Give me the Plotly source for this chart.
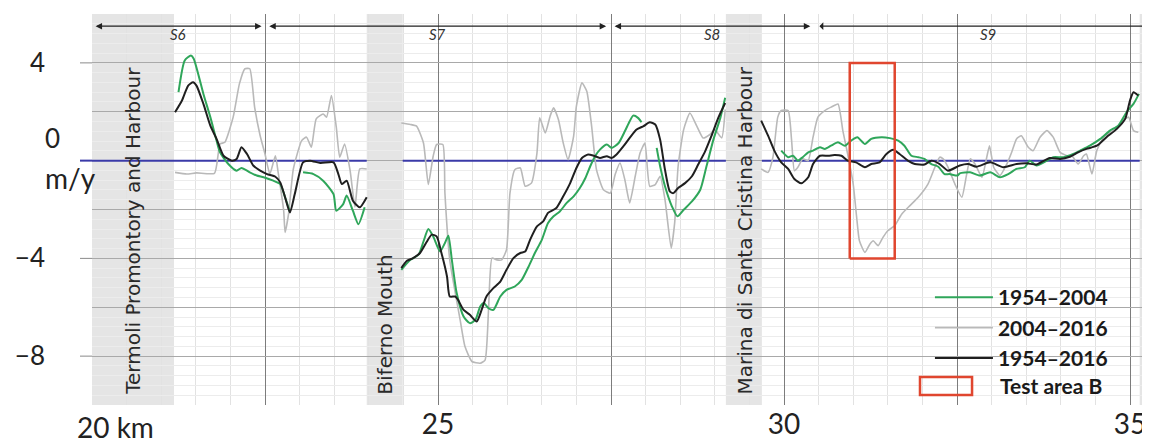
import plotly.graph_objects as go

N = None
# ---------------- data (km along coast, m/y) ----------------
green_x = [21.25, 21.34, 21.43, 21.47, 21.61, 21.71, 21.80, 21.85, 21.97, 22.09, 22.16, 22.28, 22.38, 22.48, 22.62, 22.72, 22.79, 22.86, N,
           23.05, 23.20, 23.34, 23.49, 23.53, 23.63, 23.68, 23.77, 23.85, 23.94, N,
           24.47, 24.60, 24.72, 24.79, 24.86, 24.93, 25.03, 25.10, 25.15, 25.20, 25.27, 25.37, 25.46, 25.54, 25.61, 25.66, 25.73, 25.80, 25.90, 25.99,
           26.11, 26.21, 26.31, 26.40, 26.50, 26.59, 26.67, 26.76, 26.86, 26.96, 27.05, 27.13, 27.20, 27.27, 27.34, 27.44, 27.51, 27.61, 27.70, 27.77,
           27.82, 27.89, 27.94, N,
           28.16, 28.21, 28.28, 28.38, 28.46, 28.55, 28.67, 28.79, 28.88, 28.98, 29.08, 29.15, N,
           29.96, 30.06, 30.13, 30.20, 30.27, 30.35, 30.42, 30.52, 30.59, 30.68, 30.78, 30.88, 30.97, 31.06, 31.17, 31.26, 31.41, 31.53, 31.65, 31.74,
           31.84, 31.94, 32.03, 32.13, 32.23, 32.32, 32.39, 32.51, 32.54, 32.69, 32.83, 32.98, 33.12, 33.24, 33.36, 33.48, 33.55, 33.65, 33.80, 33.89,
           34.04, 34.18, 34.28, 34.42, 34.57, 34.71, 34.83, 34.95, 35.05, 35.13]
green_y = [2.8, 4.1, 4.3, 4.17, 2.73, 1.78, 0.82, 0.34, -0.14, -0.41, -0.30, -0.48, -0.61, -0.68, -0.82, -0.96, -1.5, -2.1, N,
           -0.48, -0.55, -0.82, -1.37, -2.05, -1.78, -1.43, -2.05, -2.6, -1.91, N,
           -4.47, -4.06, -3.85, -3.31, -2.80, -3.10, -3.72, -3.37, -3.07, -4.06, -5.42, -6.38, -6.65, -6.52, -5.97, -5.83, -6.04, -6.11, -5.56, -5.29,
           -5.15, -4.88, -4.33, -3.78, -3.24, -2.55, -2.28, -2.08, -1.73, -1.46, -1.12, -0.71, -0.23, 0.18, 0.45, 0.66, 0.52, 0.72, 1.20, 1.61,
           1.84, 1.75, 1.57, N,
           0.52, -0.23, -1.05, -1.87, -2.28, -2.01, -1.67, -1.19, -0.23, 0.86, 1.75, 2.57, N,
           0.41, 0.14, 0.2, 0.0, 0.14, 0.34, 0.41, 0.55, 0.48, 0.61, 0.75, 0.61, 0.82, 0.96, 0.68, 0.89, 0.96, 0.92, 0.82, 0.61,
           0.2, 0.14, 0.07, -0.14, -0.25, -0.55, -0.55, -0.61, -0.52, -0.48, -0.61, -0.48, -0.68, -0.55, -0.34, -0.27, 0.0, -0.2, 0.0, 0.14,
           0.14, 0.27, 0.41, 0.61, 0.89, 1.23, 1.43, 1.98, 2.32, 2.73]

gray_x = [21.20, 21.37, 21.51, 21.77, 21.85, 21.92, 22.04, 22.13, 22.21, 22.28, 22.35, 22.43, 22.50, 22.57, 22.65, 22.69, 22.77, 22.79, 22.84, 22.91,
          23.03, 23.10, 23.17, 23.24, 23.34, 23.39, 23.46, 23.53, 23.58, 23.65, 23.73, 23.80, 23.87, 23.97, N,
          24.47, 24.60, 24.69, 24.79, 24.86, 24.93, 24.98, 25.07, 25.10, 25.17, 25.25, 25.32, 25.39, 25.49, 25.61, 25.68, 25.73, 25.78, 25.85, 25.92,
          25.99, 26.04, 26.11, 26.19, 26.26, 26.35, 26.43, 26.47, 26.55, 26.62, 26.67, 26.74, 26.81, 26.88, 26.96, 27.00, 27.08, 27.15, 27.22, 27.29,
          27.39, 27.49, 27.56, 27.63, 27.70, 27.77, 27.85, 27.92, 27.99, 28.06, 28.14, 28.21, 28.28, 28.37, 28.42, 28.47, 28.55, 28.64, 28.74, 28.83,
          28.93, 29.00, 29.10, 29.15, N,
          29.67, 29.77, 29.84, 29.91, 29.96, 30.06, 30.11, 30.15, 30.20, 30.27, 30.35, 30.42, 30.49, 30.59, 30.68, 30.78, 30.85, 30.92, 31.00, 31.05,
          31.09, 31.17, 31.24, 31.29, 31.36, 31.43, 31.50, 31.60, 31.70, 31.82, 31.94, 32.08, 32.18, 32.25, 32.30, 32.37, 32.47, 32.57, 32.64, 32.69,
          32.76, 32.86, 32.93, 32.97, 33.03, 33.12, 33.22, 33.29, 33.36, 33.43, 33.53, 33.60, 33.70, 33.80, 33.89, 33.99, 34.09, 34.16, 34.25, 34.33,
          34.37, 34.45, 34.52, 34.62, 34.71, 34.81, 34.90, 34.98, 35.05, 35.12]
gray_y = [-0.48, -0.55, -0.5, -0.52, 0.68, 0.75, 1.78, 3.14, 3.76, 3.76, 2.19, 1.02, 0.27, -0.55, 0.2, -0.48, -2.05, -2.94, -2.19, -0.34,
          0.82, 0.96, 0.55, 1.71, 1.91, 1.78, 2.66, 1.37, 0.14, 0.68, -0.41, -1.9, -0.34, -0.34, N,
          1.54, 1.48, 1.41, 0.72, -0.98, 0.18, 0.66, 0.66, -1.33, -4.06, -5.42, -6.52, -7.61, -8.22, -8.29, -8.16, -6.11, -3.99, -4.06, -4.06,
          -3.65, -1.33, -0.37, -0.30, -1.05, -0.92, 0.31, 1.75, 1.13, 1.82, 2.16, 1.68, 0.72, 0.04, 1.0, 2.23, 3.18, 2.84, 1.41, -0.37,
          -1.19, -1.33, -0.57, -0.10, -0.78, -1.73, -0.64, 0.31, 0.72, -1.05, -0.98, -0.64, -1.60, -3.58, -2.55, -0.23, 1.27, 1.95, 1.41, 0.93,
          1.07, 1.27, 0.93, 2.09, N,
          -0.34, -0.48, 0.14, 1.78, 2.05, 2.05, 0.82, -0.41, -0.27, 0.07, 0.0, 0.96, 1.78, 2.05, 2.19, 2.32, 1.23, 0.27, -0.96, -2.32,
          -3.28, -3.76, -3.42, -3.28, -3.48, -3.14, -2.87, -2.66, -2.19, -1.84, -1.5, -0.96, -0.27, 0.14, 0.07, -0.27, -0.96, -1.50, -0.55, 0.07,
          -0.14, -0.68, 0.14, 0.61, -0.27, -0.61, -0.14, 0.34, 0.89, 1.02, 0.55, 0.41, 0.96, 1.23, 0.96, 0.34, 0.20, 0.20, -0.14, 0.2,
          0.27, -0.55, 0.41, 0.96, 1.16, 1.37, 1.64, 1.78, 1.23, 1.16]

black_x = [21.20, 21.30, 21.39, 21.46, 21.51, 21.61, 21.71, 21.80, 21.90, 22.02, 22.09, 22.16, 22.24, 22.33, 22.43, 22.53, 22.65, 22.72, 22.79, 22.86,
           22.93, 23.05, 23.15, 23.30, 23.49, 23.56, 23.61, 23.68, 23.77, 23.87, 23.97, N,
           24.47, 24.55, 24.64, 24.74, 24.84, 24.91, 24.98, 25.05, 25.13, 25.17, 25.25, 25.29, 25.37, 25.46, 25.56, 25.63, 25.70, 25.80, 25.90, 25.99,
           26.09, 26.19, 26.26, 26.33, 26.43, 26.52, 26.59, 26.71, 26.81, 26.91, 27.00, 27.08, 27.17, 27.25, 27.34, 27.44, 27.51, 27.58, 27.68, 27.77,
           27.87, 27.97, 28.06, 28.14, 28.21, 28.28, 28.35, 28.40, 28.47, 28.57, 28.67, 28.76, 28.86, 28.95, 29.05, 29.15, N,
           29.67, 29.77, 29.86, 29.96, 30.06, 30.15, 30.25, 30.35, 30.42, 30.52, 30.64, 30.73, 30.83, 30.92, 31.04, 31.17, 31.26, 31.38, 31.48, 31.58,
           31.67, 31.79, 31.89, 32.03, 32.13, 32.25, 32.37, 32.54, 32.66, 32.78, 32.98, 33.17, 33.36, 33.51, 33.65, 33.84, 33.99, 34.13, 34.25, 34.37,
           34.52, 34.66, 34.81, 34.93, 35.00, 35.05, 35.12]
black_y = [1.98, 2.46, 3.07, 3.21, 3.07, 2.32, 1.43, 0.89, 0.2, 0.0, 0.07, 0.55, 0.27, -0.2, -0.41, -0.55, -0.66, -0.89, -1.5, -2.12,
           -1.37, -0.07, 0.0, -0.1, -0.07, -0.55, -0.96, -0.82, -1.64, -1.91, -1.5, N,
           -4.4, -4.1, -3.99, -3.78, -3.31, -3.03, -3.10, -3.78, -4.74, -5.56, -5.56, -5.70, -6.11, -6.31, -6.58, -6.11, -5.56, -5.22, -4.95, -4.47,
           -3.99, -3.78, -3.72, -3.24, -2.69, -2.49, -2.14, -1.94, -1.46, -0.92, -0.30, 0.11, 0.25, 0.20, 0.11, 0.18, 0.11, 0.25, 0.59, 0.93,
           1.27, 1.41, 1.57, 1.48, 0.86, -0.37, -1.26, -1.33, -1.12, -0.92, -0.64, -0.16, 0.38, 1.0, 1.75, 2.36, N,
           1.64, 1.02, 0.41, -0.07, -0.34, -0.75, -0.93, -0.68, -0.14, 0.2, 0.2, 0.23, 0.2, 0.0, -0.07, -0.27, -0.14, -0.07, 0.27, 0.44,
           0.27, 0.0, -0.14, -0.16, 0.0, -0.14, -0.41, -0.2, -0.14, -0.25, -0.07, -0.27, -0.14, -0.11, -0.16, 0.11, 0.07, 0.16, 0.34, 0.48,
           0.61, 0.96, 1.30, 1.71, 2.46, 2.80, 2.66]

series_names = ["1954\u20132004", "2004\u20132016", "1954\u20132016"]

# structures (grey bands) and their names
band_x0 = [20.0, 23.97, 29.16, 35.14]
band_x1 = [21.185, 24.49, 29.68, 35.289]
band_labels = ["Termoli Promontory and Harbour", "Biferno Mouth", "Marina di Santa Cristina Harbour"]
band_label_x = [20.59, 24.23, 29.43]

# sediment cells along the top
sec_labels = ["S6", "S7", "S8", "S9"]
sec_start = [20.03, 22.54, 27.53, 30.49]
sec_end = [22.45, 27.43, 30.38, 35.289]
sec_label_x = [21.24, 24.99, 28.96, 32.95]

# test area B
test_x = [30.95, 31.60]
test_y = [-4.0, 4.0]

# axis ticks
x_tickvals = [20, 22.5, 25, 27.5, 30, 32.5, 35]
x_ticktext = ["", "", "25", "", "30", "", "35"]
y_tickvals = [-10, -8, -6, -4, -2, 0, 2, 4, 6]
y_ticktext = ["", "\u22128", "", "\u22124", "", "", "", "4", ""]

# ---------------- figure ----------------
FONT = "Lato"
BANDFONT = "DejaVu Sans"
XR = [20, 35.289]
YR = [-10, 6]
GREEN = "#2fa65a"
GRAY = "#b9b9b9"
BLACK = "#1f1f1f"
RED = "#e0462f"
BLUE = "#3a3aa8"

fig = go.Figure()
# gray drawn first (underneath), legend order fixed by legendrank
fig.add_trace(go.Scatter(x=gray_x, y=gray_y, name=series_names[1], mode="lines", legendrank=2,
                         line=dict(color=GRAY, width=1.6, shape="spline", smoothing=0.5)))
fig.add_trace(go.Scatter(x=green_x, y=green_y, name=series_names[0], mode="lines", legendrank=1,
                         line=dict(color=GREEN, width=2, shape="spline", smoothing=0.6)))
fig.add_trace(go.Scatter(x=black_x, y=black_y, name=series_names[2], mode="lines", legendrank=3,
                         line=dict(color=BLACK, width=2, shape="spline", smoothing=0.6)))
fig.add_trace(go.Scatter(x=[test_x[0], test_x[1], test_x[1], test_x[0], test_x[0]],
                         y=[test_y[0], test_y[0], test_y[1], test_y[1], test_y[0]],
                         mode="lines", line=dict(color=RED, width=2.5), showlegend=False,
                         name="Test area B", hoverinfo="skip"))

shapes = []
for a, b in zip(band_x0, band_x1):
    shapes.append(dict(type="rect", xref="x", yref="paper", x0=a, x1=b, y0=0, y1=1,
                       fillcolor="#e5e5e5", line=dict(width=0), layer="between"))
# zero line segments (not across the river mouth / harbour bands)
zero_segs = [(band_x0[0], band_x0[1]), (band_x1[1], band_x0[2]), (band_x1[2], band_x0[3])]
for a, b in zero_segs:
    shapes.append(dict(type="line", xref="x", yref="y", x0=a, x1=b, y0=0, y1=0,
                       line=dict(color=BLUE, width=2), layer="between"))
# y tick marks
for v in [4, -4, -8]:
    shapes.append(dict(type="line", xref="paper", yref="y", x0=-12/1058, x1=0, y0=v, y1=v,
                       line=dict(color="#8a8a8a", width=1), layer="above"))
shapes.append(dict(type="line", xref="paper", yref="y", x0=-12/1058, x1=0, y0=0, y1=0,
                   line=dict(color=BLUE, width=2), layer="above"))
# legend patch for Test area B
shapes.append(dict(type="rect", xref="paper", yref="paper", x0=0.7826, x1=0.8318, y0=0.0256, y1=0.0716,
                   line=dict(color=RED, width=2.5), fillcolor="rgba(0,0,0,0)", layer="above"))

annotations = []
for lab, xc in zip(band_labels, band_label_x):
    annotations.append(dict(text=lab, x=xc, y=-9.67, xref="x", yref="y", textangle=-90,
                            xanchor="center", yanchor="bottom", showarrow=False,
                            font=dict(family=BANDFONT, size=20, color="#2a2a2a")))
for a, b in zip(sec_start, sec_end):
    annotations.append(dict(text="", x=b, y=5.5, ax=a, ay=5.5, xref="x", yref="y",
                            axref="x", ayref="y", showarrow=True,
                            arrowside="end+start" if b < 35.2 else "start",
                            arrowhead=2, arrowsize=1, arrowwidth=1.3, arrowcolor="#222"))
for lab, xc in zip(sec_labels, sec_label_x):
    annotations.append(dict(text="<i>" + lab + "</i>", x=xc, y=5.2, xref="x", yref="y",
                            showarrow=False, font=dict(family=FONT, size=15, color="#333")))
annotations.append(dict(text="20 km", x=0, y=0, xref="paper", yref="paper", xanchor="left",
                        yanchor="top", xshift=-17, yshift=-3, showarrow=False,
                        font=dict(family=FONT, size=28, color="#222")))
annotations.append(dict(text="0", x=-49/1058, y=0.93, xref="paper", yref="y", showarrow=False,
                        font=dict(family=FONT, size=26, color="#222")))
annotations.append(dict(text="m/y", x=-49/1058, y=-0.71, xref="paper", yref="y", showarrow=False,
                        font=dict(family=FONT, size=28, color="#222")))
annotations.append(dict(text="<b>Test area B</b>", x=0.8563, y=0.0486, xref="paper", yref="paper",
                        xanchor="left", yanchor="middle", showarrow=False,
                        font=dict(family=FONT, size=21, color="#1a1a1a")))

fig.update_layout(
    width=1142, height=436,
    margin=dict(l=84, r=0, t=6, b=39, pad=0),
    plot_bgcolor="white", paper_bgcolor="white",
    font=dict(family=FONT, color="#222"),
    shapes=shapes, annotations=annotations,
    showlegend=True,
    legend=dict(x=0.792, y=0.327, xanchor="left", yanchor="top", bgcolor="rgba(0,0,0,0)",
                font=dict(family=FONT, size=21, color="#1a1a1a", weight="bold"),
                traceorder="normal", itemwidth=58, tracegroupgap=0),
    xaxis=dict(range=XR, tickvals=x_tickvals, ticktext=x_ticktext, showgrid=True,
               gridcolor="#7c7c7c", gridwidth=1, zeroline=False, showline=False, ticks="",
               ticklabelstandoff=0,
               tickfont=dict(family=FONT, size=28, color="#222"),
               minor=dict(dtick=0.5, tick0=20, showgrid=True, gridcolor="#e2e2e2", gridwidth=1)),
    yaxis=dict(range=YR, tickvals=y_tickvals, ticktext=y_ticktext, showgrid=True,
               gridcolor="#a9a9a9", gridwidth=1, zeroline=False, showline=False, ticks="",
               ticklabelstandoff=46,
               tickfont=dict(family=FONT, size=26, color="#222"),
               minor=dict(dtick=0.4, tick0=0, showgrid=True, gridcolor="#ececec", gridwidth=1)),
)

fig.write_html("out.html")
